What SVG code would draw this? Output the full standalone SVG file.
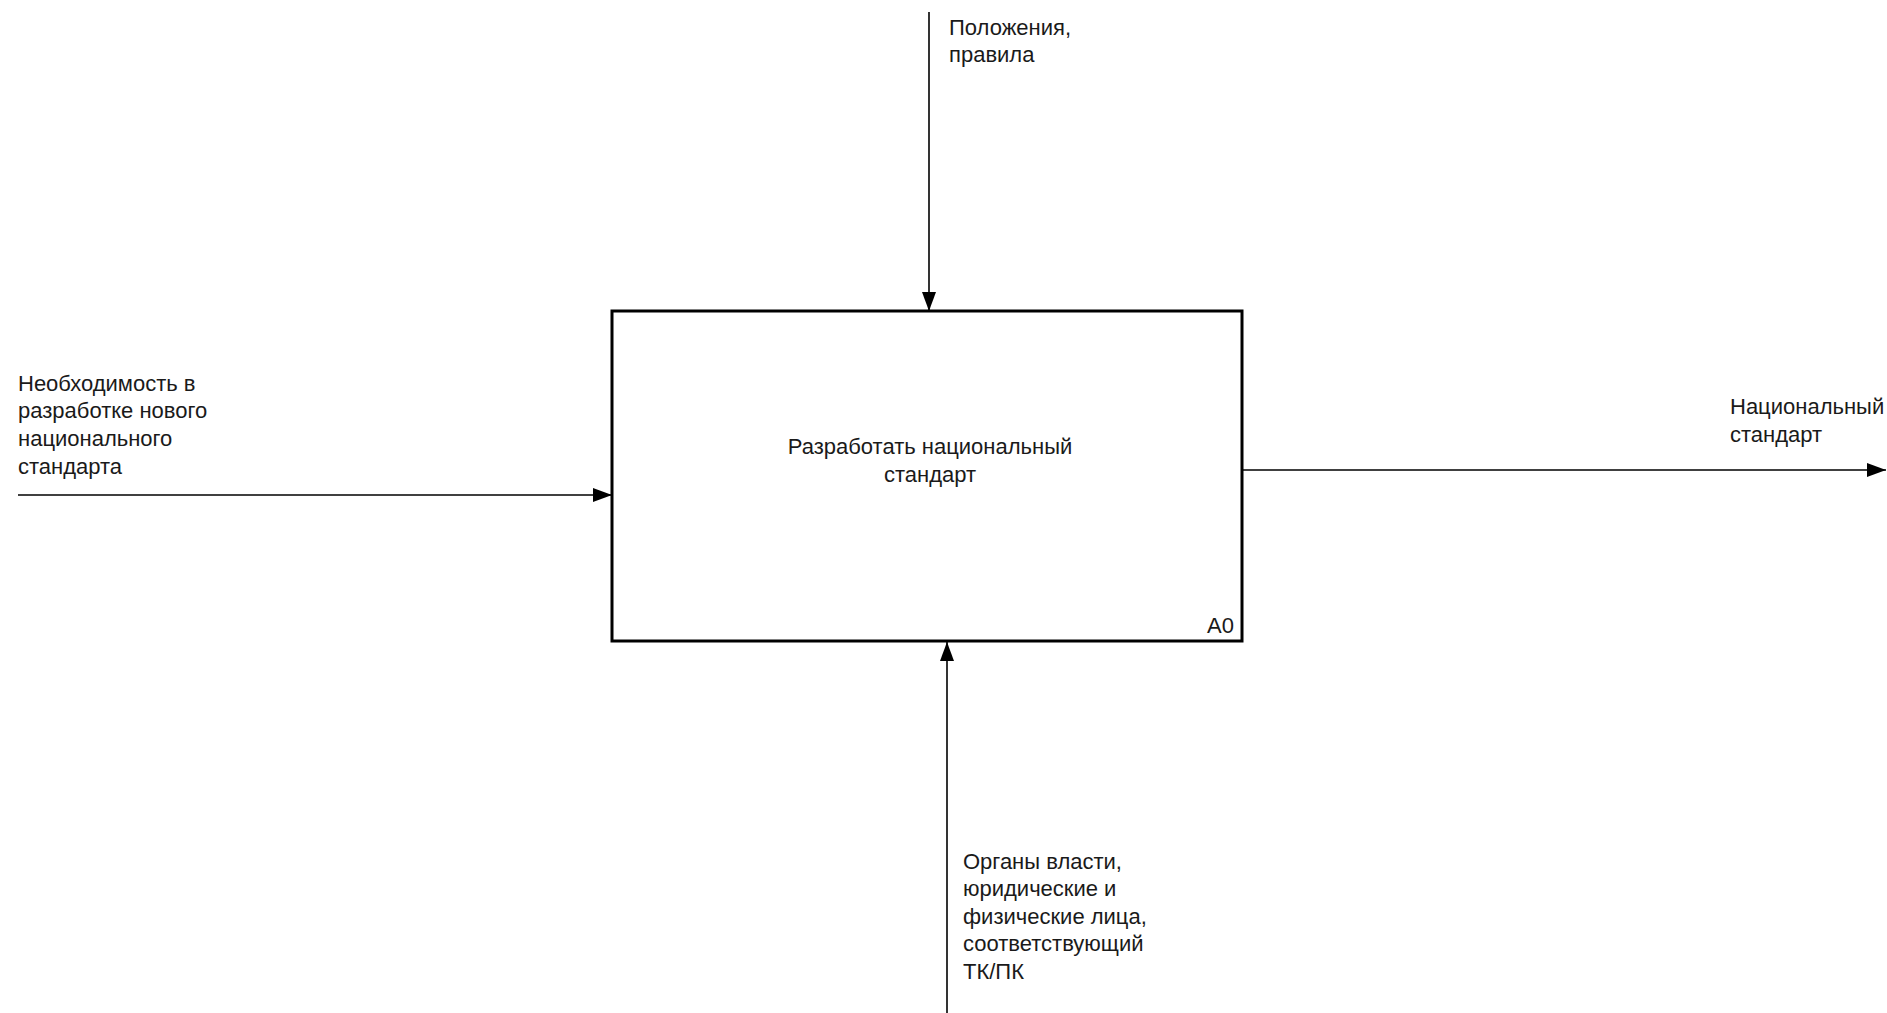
<svg xmlns="http://www.w3.org/2000/svg" width="1887" height="1013" viewBox="0 0 1887 1013">
<defs>
<style>
.t{font-family:"Liberation Sans",Arial,sans-serif;font-size:22px;fill:#1a1a1a}
.c{fill:none;stroke:#000;stroke-width:1.6}
.box{fill:#fff;stroke:#000;stroke-width:3}
</style>
<marker id="ah" markerUnits="userSpaceOnUse" markerWidth="20" markerHeight="14" refX="19" refY="7" orient="auto">
<path d="M0,0 L19,7 L0,14 z" fill="#000"/>
</marker>
</defs>
<rect width="1887" height="1013" fill="#fff"/>
<g id="connectors">
<line class="c" x1="929" y1="12" x2="929" y2="311" marker-end="url(#ah)"/>
<line class="c" x1="18" y1="495" x2="612" y2="495" marker-end="url(#ah)"/>
<line class="c" x1="1242" y1="470" x2="1886" y2="470" marker-end="url(#ah)"/>
<line class="c" x1="947" y1="1013" x2="947" y2="642" marker-end="url(#ah)"/>
</g>
<g id="node-A0">
<rect class="box" x="612" y="311" width="630" height="330"/>
<text class="t" x="930" y="454" text-anchor="middle">Разработать национальный</text>
<text class="t" x="930" y="482" text-anchor="middle">стандарт</text>
<text class="t" x="1234" y="633" text-anchor="end">A0</text>
</g>
<g id="label-control">
<text class="t" x="949" y="35">Положения,</text>
<text class="t" x="949" y="62">правила</text>
</g>
<g id="label-input">
<text class="t" x="18" y="391">Необходимость в</text>
<text class="t" x="18" y="418">разработке нового</text>
<text class="t" x="18" y="446">национального</text>
<text class="t" x="18" y="474">стандарта</text>
</g>
<g id="label-output">
<text class="t" x="1730" y="414">Национальный</text>
<text class="t" x="1730" y="442">стандарт</text>
</g>
<g id="label-mechanism">
<text class="t" x="963" y="869">Органы власти,</text>
<text class="t" x="963" y="896">юридические и</text>
<text class="t" x="963" y="924">физические лица,</text>
<text class="t" x="963" y="951">соответствующий</text>
<text class="t" x="963" y="979">ТК/ПК</text>
</g>
</svg>
